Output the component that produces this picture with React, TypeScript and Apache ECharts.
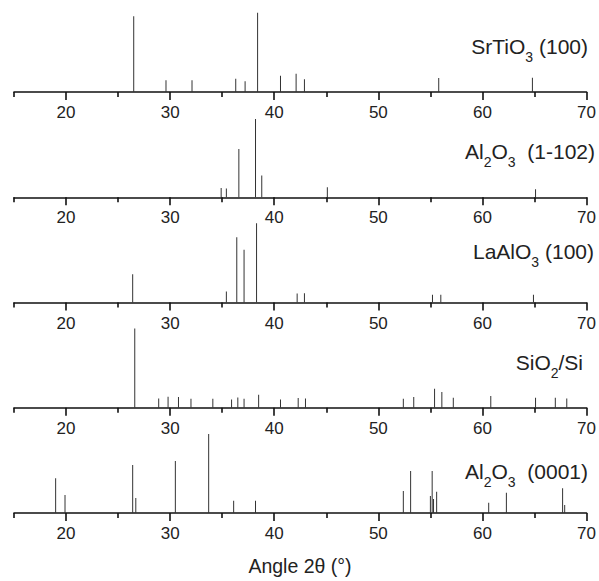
import React, { useEffect, useRef } from 'react';
import * as echarts from 'echarts';

// ---- data (2θ positions in degrees, relative intensities) ----
const srtioAngles = [26.5, 29.6, 32.1, 36.3, 37.2, 38.4, 40.6, 42.1, 42.9, 55.8, 64.8];
const srtioInt = [75.7, 11.7, 11.7, 13.3, 10.7, 79.3, 16.3, 18.3, 12.7, 14, 14.3];

const alR_Angles = [34.9, 35.4, 36.6, 38.2, 38.8, 45.1, 65.1];
const alR_Int = [9.3, 8.7, 48.3, 78.3, 21.7, 10, 8];

const laAngles = [26.4, 35.4, 36.4, 37.1, 38.3, 42.2, 42.9, 55.2, 56.0, 64.9];
const laInt = [28.3, 11, 65.3, 52.7, 79.3, 9, 9.3, 7.7, 7.7, 7.7];

const sioAngles = [26.6, 28.9, 29.8, 30.8, 32.0, 34.1, 35.9, 36.5, 37.1, 38.5, 40.6, 42.3, 43.0, 52.4, 53.4, 55.4, 56.1, 57.2, 60.8, 65.1, 67.0, 68.1];
const sioInt = [79.3, 9.3, 11, 10.7, 9, 9, 8.3, 10.3, 9, 13, 8.3, 9.7, 9.3, 9, 10.7, 19, 15.7, 10, 11.7, 10, 10, 9.3];

const alC_Angles = [19.0, 19.9, 26.4, 26.7, 30.5, 33.7, 36.1, 38.2, 52.4, 53.1, 55.0, 55.17, 55.3, 55.6, 60.6, 62.3, 67.7, 67.9];
const alC_Int = [34.7, 18, 48, 15, 52, 79, 12.3, 12.3, 22, 42, 17, 42, 14, 21.3, 10.3, 20.3, 24.7, 8];

const panelRich = [
  '{m|SrTiO}{s|3}{m| (100)}',
  '{m|Al}{s|2}{m|O}{s|3}{m|  (1-102)}',
  '{m|LaAlO}{s|3}{m| (100)}',
  '{m|SiO}{s|2}{m|/Si}',
  '{m|Al}{s|2}{m|O}{s|3}{m|  (0001)}',
];

const majorTicks = [20, 30, 40, 50, 60, 70];
const minorTicks = [15, 25, 35, 45, 55, 65];
const xTitle = 'Angle 2θ (°)';

const panels = [
  [srtioAngles, srtioInt],
  [alR_Angles, alR_Int],
  [laAngles, laInt],
  [sioAngles, sioInt],
  [alC_Angles, alC_Int],
];

const baselines = [92, 197.25, 302.5, 407.75, 513];
const labelY = [46, 151, 251, 362, 471];
const labelRight = [588, 595, 594, 583, 588];

export default function App() {
  const ref = useRef<HTMLDivElement>(null);
  useEffect(() => {
    document.body.style.margin = '0';
    const chart = echarts.init(ref.current!, null, { renderer: 'svg' });
    const H = 85;
    const grids: any[] = [];
    const xAxes: any[] = [];
    const yAxes: any[] = [];
    const series: any[] = [];
    const font = 'Liberation Sans, Arial, sans-serif';
    panels.forEach((p, i) => {
      grids.push({ left: 14, width: 575, top: baselines[i] - H, height: H });
      xAxes.push({
        type: 'value', gridIndex: i, min: 15, max: 70, position: 'bottom',
        axisLine: { show: true, onZero: false, lineStyle: { color: '#111', width: 1.6 } },
        axisTick: { show: true, customValues: majorTicks, length: 8, lineStyle: { color: '#111', width: 1.6 } },
        axisLabel: { show: true, customValues: majorTicks, margin: 12, fontSize: 17, color: '#222', fontFamily: font },
        splitLine: { show: false },
      });
      xAxes.push({
        type: 'value', gridIndex: i, min: 15, max: 70, position: 'bottom',
        axisLine: { show: false, onZero: false },
        axisTick: { show: true, customValues: minorTicks, length: 5, lineStyle: { color: '#111', width: 1.6 } },
        axisLabel: { show: false },
        splitLine: { show: false },
      });
      yAxes.push({ type: 'value', gridIndex: i, min: 0, max: H, show: false });
      const [ang, inten] = p as number[][];
      series.push({
        type: 'bar', xAxisIndex: i * 2, yAxisIndex: i, barWidth: 1,
        itemStyle: { color: '#333' },
        data: ang.map((a, k) => [a, inten[k]]),
        silent: true,
      });
    });
    const graphic: any[] = panelRich.map((t, i) => ({
      type: 'text', x: labelRight[i], y: labelY[i],
      style: {
        text: t, align: 'right', verticalAlign: 'middle', fill: '#222',
        rich: {
          m: { fontSize: 21, lineHeight: 36, fontFamily: font, fill: '#222' },
          s: { fontSize: 14, lineHeight: 14, verticalAlign: 'bottom', fontFamily: font, fill: '#222' },
        },
      },
    }));
    graphic.push({
      type: 'text', x: 300, y: 566,
      style: { text: xTitle, align: 'center', verticalAlign: 'middle', fontSize: 19.5, fontFamily: font, fill: '#222' },
    });
    chart.setOption({
      animation: false,
      backgroundColor: '#fff',
      grid: grids,
      xAxis: xAxes,
      yAxis: yAxes,
      series,
      graphic,
    });
    return () => chart.dispose();
  }, []);
  return <div ref={ref} style={{ width: 599, height: 581 }} />;
}
